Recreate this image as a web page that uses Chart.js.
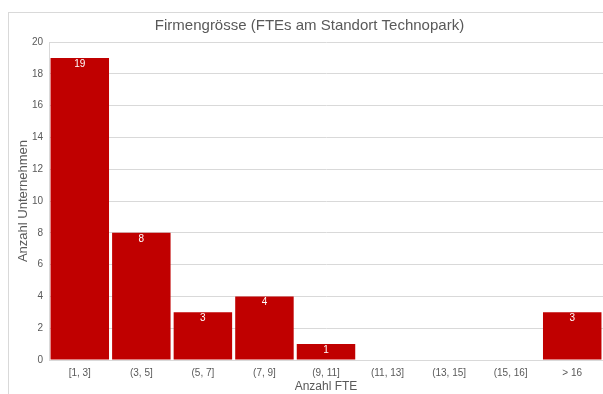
<!DOCTYPE html>
<html>
<head>
<meta charset="utf-8">
<script src="https://cdn.jsdelivr.net/npm/chart.js@4"></script>
<style>
  html, body { margin: 0; padding: 0; background: #fff; overflow: hidden; }
  #rahmen { position: absolute; left: 8px; top: 12px; width: 640px; height: 420px; border: 1px solid #d9d9d9; }
  #wrap { position: absolute; left: 0; top: 0; width: 603px; height: 394px; }
</style>
</head>
<body>
<div id="rahmen"></div>
<div id="wrap"><canvas id="myChart" width="603" height="394"></canvas></div>
<script>
// Klassen der Firmengrösse und Anzahl Unternehmen pro Klasse
const klassen = ['[1, 3]', '(3, 5]', '(5, 7]', '(7, 9]', '(9, 11]', '(11, 13]', '(13, 15]', '(15, 16]', '> 16'];
const anzahl = [19, 8, 3, 4, 1, 0, 0, 0, 3];
const yTicks = [0, 2, 4, 6, 8, 10, 12, 14, 16, 18, 20];

const schrift = "'Liberation Sans', Arial, sans-serif";
const grau = '#595959';

// Werte weiss oben in den Balken schreiben
const wertLabels = {
    id: 'wertLabels',
    afterDatasetsDraw(chart) {
        const ctx = chart.ctx;
        const meta = chart.getDatasetMeta(0);
        ctx.save();
        ctx.fillStyle = '#ffffff';
        ctx.font = '10px ' + schrift;
        ctx.textAlign = 'center';
        ctx.textBaseline = 'middle';
        meta.data.forEach((bar, i) => {
            if (anzahl[i] > 0) {
                ctx.fillText(anzahl[i], bar.x, bar.y + 6);
            }
        });
        ctx.restore();
    }
};

var ctx = document.getElementById('myChart').getContext('2d');
var myChart = new Chart(ctx, {
    type: 'bar',
    data: {
        labels: klassen,
        datasets: [{
            data: anzahl,
            backgroundColor: '#c00000',
            barPercentage: 0.95,
            categoryPercentage: 1.0
        }]
    },
    options: {
        responsive: false,
        animation: false,
        layout: { padding: { top: 17, left: 16, right: 0, bottom: 0 } },
        plugins: {
            legend: { display: false },
            tooltip: { enabled: false },
            title: {
                display: true,
                text: 'Firmengrösse (FTEs am Standort Technopark)',
                color: grau,
                font: { family: schrift, size: 15, weight: 'normal' },
                padding: { top: 0, bottom: 7 }
            }
        },
        scales: {
            x: {
                grid: { display: false, drawTicks: false },
                border: { color: '#d9d9d9' },
                ticks: { color: grau, font: { family: schrift, size: 10 }, padding: 7 },
                title: {
                    display: true,
                    text: 'Anzahl FTE',
                    color: grau,
                    font: { family: schrift, size: 12 },
                    padding: { top: 0, bottom: 0 }
                },
                afterFit(scale) { scale.height = 34; }
            },
            y: {
                min: 0,
                max: 20,
                afterBuildTicks(scale) { scale.ticks = yTicks.map(v => ({ value: v })); },
                grid: { color: '#d9d9d9', drawTicks: false },
                border: { display: true, color: '#d9d9d9' },
                ticks: { color: grau, font: { family: schrift, size: 10 }, padding: 6 },
                title: {
                    display: true,
                    text: 'Anzahl Unternehmen',
                    color: grau,
                    font: { family: schrift, size: 13 },
                    padding: { top: 0, bottom: 4 }
                },
                afterFit(scale) { scale.width = 33; }
            }
        }
    },
    plugins: [wertLabels]
});
</script>
</body>
</html>
